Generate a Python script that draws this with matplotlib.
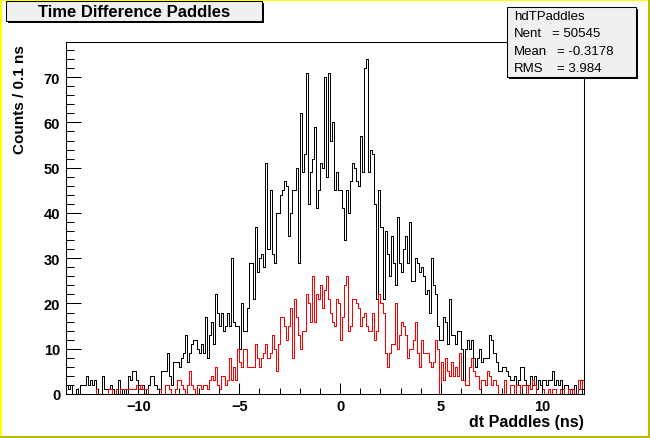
import numpy as np
import matplotlib
matplotlib.use('Agg')
import matplotlib.pyplot as plt
from matplotlib.patches import Rectangle

plt.rcParams['font.family'] = ['Liberation Sans', 'DejaVu Sans']

# histogram binning: 0.1 ns bins
x_lo, x_hi, bin_w = -13.6, 12.1, 0.1

# all paddle hits (black), counts per 0.1 ns bin
counts_all = [
    2, 1, 2, 0, 0, 1, 0, 2, 2, 2, 4, 2, 3, 2, 3, 1, 0, 0, 4, 1,
    1, 1, 2, 1, 0, 0, 3, 1, 0, 1, 0, 4, 3, 5, 5, 3, 2, 1, 2, 0,
    1, 2, 4, 4, 2, 1, 0, 5, 5, 5, 9, 4, 2, 7, 7, 7, 6, 8, 9, 13,
    7, 9, 11, 12,
    12, 10, 9, 11, 9, 17, 8, 13, 16, 11, 22, 18, 15, 18, 14, 15, 18, 15, 30, 16,
    15, 15, 10, 20, 14, 14, 19, 29, 29, 21, 37, 27, 30, 31, 28, 51, 32, 45, 31, 29,
    40, 40, 44, 45, 47, 46, 35, 40, 45, 45, 50, 29, 62, 49, 53,
    71, 42, 49, 52, 59, 41, 45, 51, 50, 70, 48, 71, 56, 60, 45, 49, 45, 45, 41, 34,
    45, 40, 47, 51, 50, 47, 46, 57, 49, 72, 74, 49, 54, 53, 42, 21, 45, 37, 21, 36,
    31, 26, 35, 29, 24, 39, 29,
    27, 32, 35, 29, 38, 25, 25, 30, 29, 27, 28, 26, 22, 23, 18, 30, 24, 22, 15, 12,
    12, 17, 16, 11, 21, 13, 13, 11, 14, 14, 10, 3, 10, 12, 10, 12, 8, 6, 8, 10,
    7, 8, 8, 8, 13, 12, 9, 7, 5, 5, 6, 6, 5, 4, 3, 3, 4, 2, 3, 6,
    6, 3, 2, 2, 4, 2, 4, 1, 3, 2, 3, 3, 2, 3, 3, 5, 2, 3, 2, 3,
    1, 2, 2, 0, 1, 1, 2, 0, 1, 3, 1,
]

# selected subset (red)
counts_red = [
    0, 0, 0, 0, 0, 0, 0, 0, 0, 0, 0, 0, 0, 0, 0, 1, 0, 0, 0, 0,
    0, 1, 1, 0, 0, 1, 0, 1, 1, 1, 1, 1, 1, 1, 1, 2, 1, 2, 1, 1,
    1, 0, 0, 0, 0, 0, 1, 0, 0, 2, 2, 1, 0, 0, 1, 3, 3, 2, 1, 0,
    2, 5, 2, 1,
    0, 2, 2, 1, 2, 2, 1, 3, 4, 3, 6, 2, 1, 4, 4, 2, 3, 8, 3, 6,
    3, 10, 7, 6, 10, 10, 6, 6, 6, 6, 11, 8, 6, 8, 9, 11, 8, 9, 13, 10,
    5, 11, 17, 17, 15, 12, 15, 19, 8, 21, 17, 13, 10, 14, 14,
    22, 20, 16, 26, 16, 22, 21, 24, 19, 23, 26, 21, 18, 16, 15, 21, 20, 12, 17, 24,
    26, 14, 15, 21, 21, 20, 19, 15, 17, 18, 15, 14, 14, 18, 12, 14, 22, 20, 18, 9,
    6, 9, 11, 11, 20, 10, 13,
    16, 15, 13, 8, 10, 10, 12, 16, 9, 6, 12, 9, 9, 9, 7, 6, 7, 12, 10, 0,
    7, 3, 8, 5, 4, 7, 4, 6, 4, 9, 3, 3, 2, 2, 6, 8, 5, 4, 4, 1,
    3, 3, 2, 5, 4, 2, 3, 2,
    0, 0, 0, 3, 0, 0, 2, 2, 0, 2, 2, 0, 2, 2, 0, 2, 1, 3, 2, 0,
    0, 0, 1, 0, 0, 1, 0, 1, 1, 0, 0, 1, 1, 0, 0, 1, 0, 1, 0, 0,
    3, 1, 3,
]

x_ticks = [-10, -5, 0, 5, 10]
x_tick_labels = ['\u221210', '\u22125', '0', '5', '10']
y_ticks = [0, 10, 20, 30, 40, 50, 60, 70]

stats_name = 'hdTPaddles'
stats_rows = [('Nent', '= 50545'), ('Mean', '= -0.3178'), ('RMS', '= 3.984')]

W, H = 650, 439


def px_rect(fig, x0, y0, x1, y1, **kw):
    # rectangle given in pixels from the top-left corner of the canvas
    r = Rectangle((x0 / W, 1 - y1 / H), (x1 - x0) / W, (y1 - y0) / H,
                  transform=fig.transFigure, **kw)
    fig.add_artist(r)


def fx(x):
    return x / W


def fy(y):
    return 1 - y / H


edges = np.round(x_lo + bin_w * np.arange(len(counts_all) + 1), 2)

fig = plt.figure(figsize=(W / 100, H / 100), dpi=100)
fig.patch.set_facecolor('white')

ax = fig.add_axes([fx(65.7), fy(395), fx(584.3) - fx(65.7), fy(43.3) - fy(395)])
ax.stairs(counts_all, edges, baseline=0, color='black', lw=0.6, antialiased=False)
ax.stairs(counts_red, edges, baseline=0, color='#ff0000', lw=0.6, antialiased=False)

ax.set_xlim(edges[0], edges[-1])
ax.set_ylim(0, 77.7)
ax.set_xticks(x_ticks)
ax.set_xticklabels(x_tick_labels)
ax.set_xticks(np.arange(-13, 13, 1), minor=True)
ax.set_yticks(y_ticks)
ax.set_yticks(np.arange(0, 78, 2), minor=True)

ax.tick_params(axis='y', which='major', direction='in', length=11, width=0.75,
               pad=4, labelsize=10.5)
ax.tick_params(axis='y', which='minor', direction='in', length=5.5, width=0.75)
ax.tick_params(axis='x', which='major', direction='in', length=8.2, width=0.75,
               pad=3.5, labelsize=10.5)
ax.tick_params(axis='x', which='minor', direction='in', length=4.5, width=0.75)
for lab in ax.get_xticklabels() + ax.get_yticklabels():
    lab.set_fontweight('bold')
for sp in ax.spines.values():
    sp.set_linewidth(0.75)

# axis titles (ROOT style: placed at the far end of the axis)
fig.text(fx(584.3), fy(422.5), 'dt Paddles (ns)', ha='right', va='center',
         fontsize=11.5, fontweight='bold')
fig.text(fx(20), fy(45), 'Counts / 0.1 ns', ha='center', va='top',
         rotation=90, fontsize=11, fontweight='bold')

# canvas border
px_rect(fig, 0, 0, 2, H, facecolor='#ffff00', lw=0, zorder=10)
px_rect(fig, 0, 0, W, 1.5, facecolor='#ffff00', lw=0, zorder=10)
px_rect(fig, W - 2.3, 0, W, H, facecolor='#bbbb00', lw=0, zorder=10)
px_rect(fig, 0, H - 2.3, W, H, facecolor='#bbbb00', lw=0, zorder=10)

# title box
px_rect(fig, 8, 3.7, 264, 24.3, facecolor='black', lw=0, zorder=5)
px_rect(fig, 6, 1.7, 262, 22.3, facecolor='#f0f0f0', edgecolor='black',
        lw=0.75, zorder=6)
fig.text(fx(134), fy(12.5), 'Time Difference Paddles', ha='center', va='center',
         fontsize=12, fontweight='bold', zorder=7)

# stats box
px_rect(fig, 509.3, 10.3, 638.3, 80, facecolor='black', lw=0, zorder=5)
px_rect(fig, 507.3, 8.3, 636, 77.7, facecolor='#f0f0f0', edgecolor='black',
        lw=0.75, zorder=6)
fig.text(fx(514), fy(16.7), stats_name, ha='left', va='center', fontsize=9.5,
         zorder=7)
row_y = [34.3, 51.9, 69.5]
val_x = [551.7, 557.3, 557.3]
for (name, val), yy, vx in zip(stats_rows, row_y, val_x):
    fig.text(fx(514), fy(yy), name, ha='left', va='center', fontsize=9.5, zorder=7)
    fig.text(fx(vx), fy(yy), val, ha='left', va='center', fontsize=9.5, zorder=7)

fig.savefig('out.png', dpi=100)
